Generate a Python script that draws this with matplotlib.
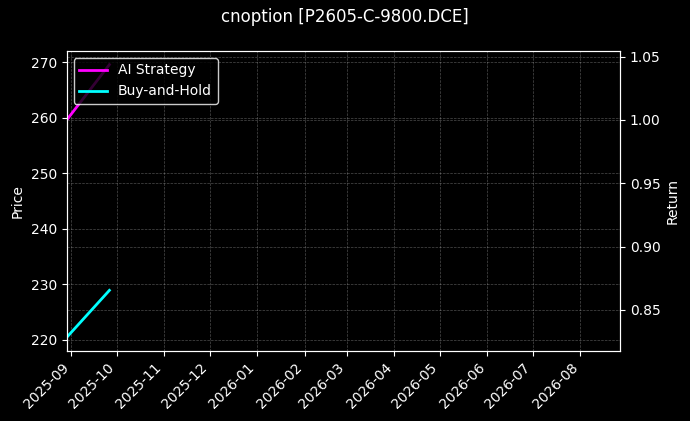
import matplotlib
matplotlib.use("Agg")
import matplotlib.pyplot as plt
import matplotlib.dates as mdates
import pandas as pd

plt.style.use("dark_background")

title = "cnoption [P2605-C-9800.DCE]"
dates = pd.to_datetime(["2025-08-29", "2025-09-26"])
ai_strategy = [1.0, 1.0437]
buy_and_hold = [0.8284, 0.8655]
x_range = pd.to_datetime(["2025-08-29", "2026-08-27"])
price_range = [218.0, 272.0]

fig = plt.figure(figsize=(6.9, 4.21), dpi=100)
ax = fig.add_axes([0.0967, 0.1663, 0.8019, 0.7126])
ax2 = ax.twinx()

ax2.plot(dates, ai_strategy, color="magenta", linewidth=2, label="AI Strategy")
ax2.plot(dates, buy_and_hold, color="cyan", linewidth=2, label="Buy-and-Hold")

ax.set_ylim(*price_range)
ax.set_xlim(x_range[0], x_range[1])
ax.set_ylabel("Price")
ax2.set_ylabel("Return")

ax.grid(True, linestyle="--", linewidth=0.5, alpha=0.3)
ax2.grid(True, linestyle="--", linewidth=0.5, alpha=0.3)

ax.xaxis.set_major_locator(mdates.MonthLocator())
ax.xaxis.set_major_formatter(mdates.DateFormatter("%Y-%m"))
plt.setp(ax.get_xticklabels(), rotation=45, ha="right")

ax2.legend(loc="upper left", facecolor="black", edgecolor="white")
fig.suptitle(title, fontsize=12)

fig.savefig("out.png", dpi=100, facecolor="black")
